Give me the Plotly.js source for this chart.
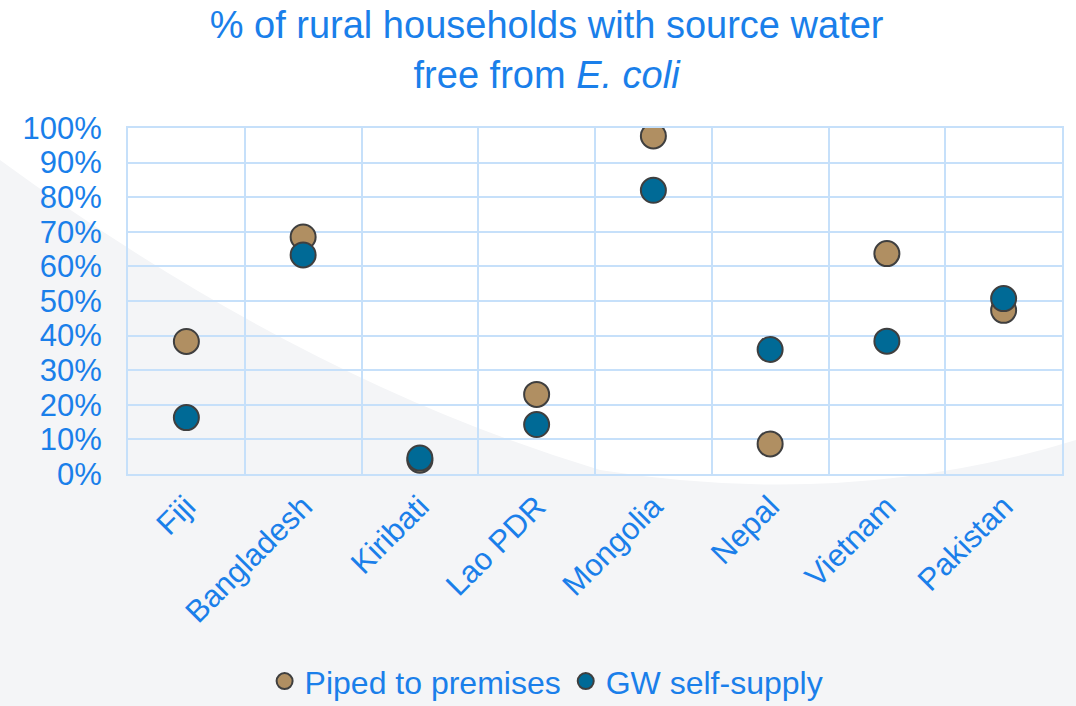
<!DOCTYPE html>
<html>
<head>
<meta charset="utf-8">
<script src="https://cdn.plot.ly/plotly-3.0.1.min.js"></script>
<style>
  html, body { margin: 0; padding: 0; background: #ffffff; }
  #chart { width: 1076px; height: 706px; }
</style>
</head>
<body>
<div id="chart"></div>
<script>
const countries = ["Fiji", "Bangladesh", "Kiribati", "Lao PDR", "Mongolia", "Nepal", "Vietnam", "Pakistan"];
const pipedToPremises = [0.383, 0.685, 0.04, 0.23, 0.977, 0.087, 0.637, 0.473];
const gwSelfSupply = [0.163, 0.633, 0.046, 0.143, 0.82, 0.36, 0.384, 0.507];
const yTickValues = [0, 0.1, 0.2, 0.3, 0.4, 0.5, 0.6, 0.7, 0.8, 0.9, 1.0];
const yTickLabels = ["0%", "10%", "20%", "30%", "40%", "50%", "60%", "70%", "80%", "90%", "100%"];

const blue = "#1A7FEA";
const grid = "#C6E0FA";
const font = "Liberation Sans, Arial, sans-serif";

// pixel -> paper helpers for the decorative background only
const L = 128, R = 14, T = 128, B = 232, W = 1076, H = 706;
const px = v => (v - L) / (W - L - R);
const py = v => (H - B - v) / (H - T - B);

const traces = [
  {
    type: "scatter", mode: "markers", name: "Piped to premises",
    x: countries, y: pipedToPremises,
    marker: { size: 25, color: "#B08F62", line: { color: "#3F3F3F", width: 2 } },
    hovertemplate: "%{x}: %{y:.0%}<extra>Piped to premises</extra>"
  },
  {
    type: "scatter", mode: "markers", name: "GW self-supply",
    x: countries, y: gwSelfSupply,
    marker: { size: 25, color: "#006A96", line: { color: "#3F3F3F", width: 2 } },
    hovertemplate: "%{x}: %{y:.0%}<extra>GW self-supply</extra>"
  }
];

const swoosh = "M " + px(0) + "," + py(160) +
  " Q " + px(300) + "," + py(380) + " " + px(600) + "," + py(470) +
  " Q " + px(850) + "," + py(510) + " " + px(1076) + "," + py(440) +
  " L " + px(1076) + "," + py(706) +
  " L " + px(0) + "," + py(706) + " Z";

const layout = {
  width: W, height: H,
  margin: { l: L, r: R, t: T, b: B },
  paper_bgcolor: "#ffffff",
  plot_bgcolor: "rgba(0,0,0,0)",
  font: { family: font, color: blue, size: 31 },
  title: {
    text: "% of rural households with source water<br>free from <i>E. coli</i>",
    font: { family: font, size: 38, color: blue },
    x: 0.508, xref: "container", xanchor: "center",
    y: 0.946, yref: "container", yanchor: "middle"
  },
  xaxis: {
    type: "category",
    range: [-0.5, 7.5],
    tickson: "boundaries",
    showgrid: true, gridcolor: grid, gridwidth: 2,
    showline: true, linecolor: grid, linewidth: 2, mirror: true,
    ticks: "", tickangle: -45,
    tickfont: { family: font, size: 31, color: blue },
    zeroline: false, fixedrange: true
  },
  yaxis: {
    range: [0, 1],
    tickvals: yTickValues, ticktext: yTickLabels,
    showgrid: true, gridcolor: grid, gridwidth: 2,
    showline: true, linecolor: grid, linewidth: 2, mirror: true,
    ticks: "", ticklabelstandoff: 18,
    tickfont: { family: font, size: 31, color: blue },
    zeroline: false, fixedrange: true
  },
  showlegend: true,
  legend: {
    orientation: "h",
    xref: "container", x: 0.508, xanchor: "center",
    yref: "container", y: 0.035, yanchor: "middle",
    font: { family: font, size: 32, color: blue },
    bgcolor: "rgba(0,0,0,0)",
    itemwidth: 30
  },
  shapes: [
    {
      type: "path", xref: "paper", yref: "paper", layer: "below",
      path: swoosh, fillcolor: "#F4F5F7", line: { width: 0 }
    }
  ]
};

Plotly.newPlot("chart", traces, layout, { displayModeBar: false });
</script>
</body>
</html>
